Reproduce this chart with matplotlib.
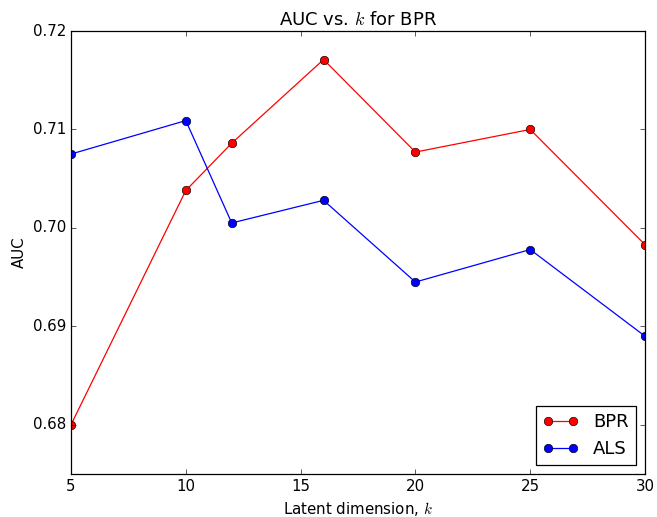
import numpy as np
import matplotlib
matplotlib.use('Agg')
import matplotlib.pyplot as plt
from matplotlib.ticker import FormatStrFormatter

plt.style.use('classic')

# latent dimensions and AUC values
k = [5, 10, 12, 16, 20, 25, 30]
auc_bpr = [0.6800, 0.7038, 0.7086, 0.7171, 0.7077, 0.7100, 0.6983]
auc_als = [0.7075, 0.7109, 0.7005, 0.7028, 0.6945, 0.6978, 0.6890]
yticks = [0.68, 0.69, 0.70, 0.71, 0.72]

fig = plt.figure(figsize=(657 / 90, 517 / 90), dpi=90)
ax = fig.add_axes([71 / 657, 1 - 474 / 517, (645 - 71) / 657, (474 - 31) / 517])

ax.plot(k, auc_bpr, 'r-o', label='BPR', markersize=6.8)
ax.plot(k, auc_als, 'b-o', label='ALS', markersize=6.8)

ax.set_xlim(5, 30)
ax.set_ylim(0.675, 0.72)
ax.set_yticks(yticks)
ax.yaxis.set_major_formatter(FormatStrFormatter('%.2f'))

ax.set_title('AUC vs. $k$ for BPR')
ax.set_xlabel('Latent dimension, $k$')
ax.set_ylabel('AUC')
ax.legend(loc=4)

fig.savefig('out.png', dpi=90)
